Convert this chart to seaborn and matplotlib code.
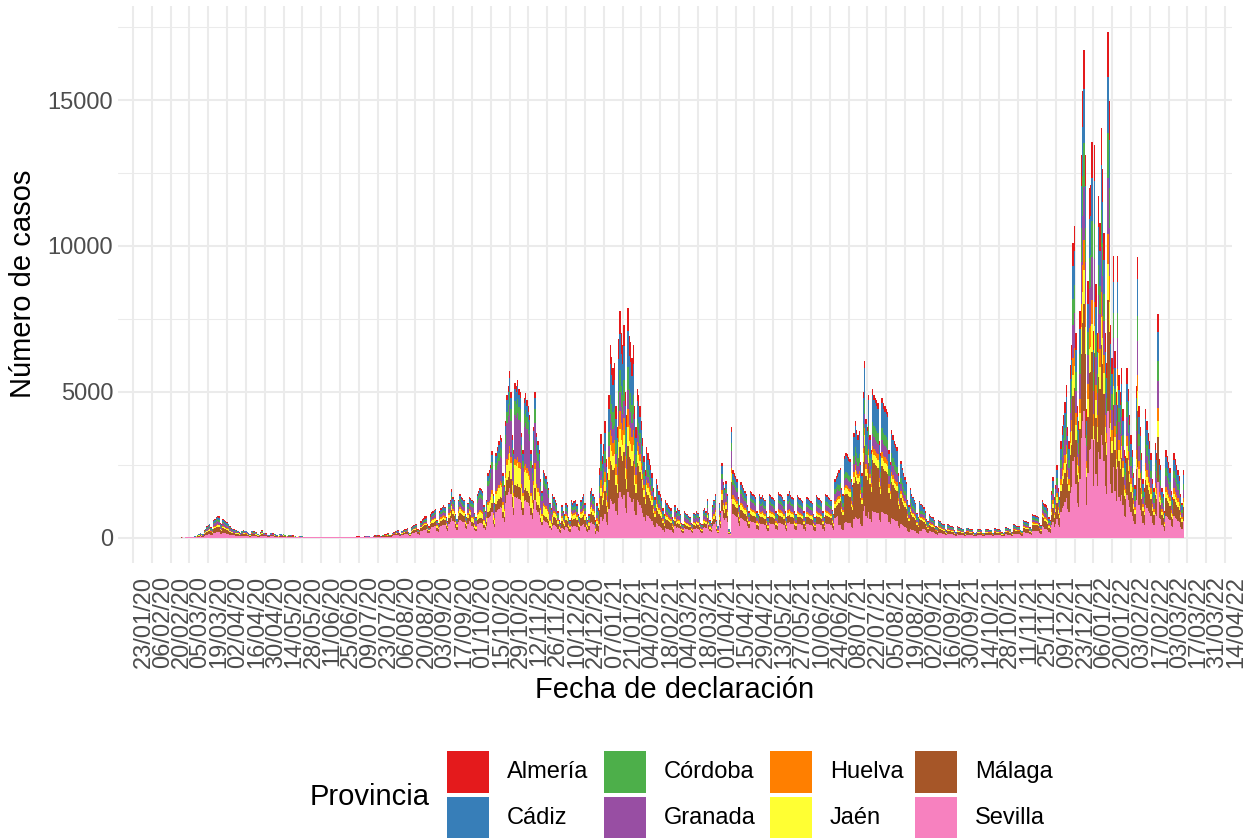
import numpy as np
import pandas as pd
import matplotlib
matplotlib.use("Agg")
import matplotlib.pyplot as plt
import matplotlib.dates as mdates
from matplotlib.patches import Rectangle
import seaborn as sns

# Provinces (ggplot order: first level on top of the stack) and Set1 colours
provincias = ["Almería", "Cádiz", "Córdoba", "Granada", "Huelva", "Jaén", "Málaga", "Sevilla"]
colores = ["#E41A1C", "#377EB8", "#4DAF4A", "#984EA3", "#FF7F00", "#FFFF33", "#A65628", "#F781BF"]

# Daily total cases, one row per week (Mon..Sun), first Monday 2020-02-24
inicio = "2020-02-24"
casos_semana = [
    [0, 0, 0, 1, 2, 3, 2], [5, 8, 12, 18, 25, 20, 15], [40, 60, 90, 120, 160, 130, 110],
    [250, 300, 380, 420, 480, 350, 300], [600, 650, 700, 750, 720, 500, 450],
    [650, 600, 550, 520, 480, 380, 320], [300, 280, 260, 250, 240, 180, 150],
    [220, 250, 240, 230, 200, 150, 120], [230, 220, 210, 200, 180, 120, 100],
    [180, 250, 170, 160, 140, 100, 80], [150, 160, 140, 130, 110, 80, 60],
    [120, 110, 100, 130, 90, 60, 50], [90, 80, 100, 70, 60, 40, 30],
    [60, 50, 40, 45, 30, 20, 15], [20, 15, 20, 15, 10, 8, 5], [15, 10, 12, 10, 8, 5, 4],
    [10, 12, 15, 10, 8, 6, 5], [15, 20, 18, 15, 12, 10, 8], [20, 25, 30, 25, 20, 15, 10],
    [30, 40, 35, 40, 30, 20, 15], [40, 50, 60, 55, 50, 30, 25], [60, 80, 90, 85, 80, 50, 40],
    [100, 120, 130, 140, 150, 90, 70], [160, 190, 210, 230, 250, 150, 120],
    [230, 260, 280, 300, 320, 200, 170], [350, 400, 430, 460, 480, 300, 260],
    [550, 620, 680, 720, 740, 450, 380], [800, 860, 900, 950, 980, 600, 500],
    [900, 1000, 1050, 1100, 1050, 700, 550], [1200, 1300, 1650, 1400, 1300, 800, 650],
    [1300, 1500, 1400, 1350, 1300, 800, 700], [1200, 1400, 1350, 1300, 1250, 850, 700],
    [1500, 1600, 1700, 1650, 1600, 1100, 900], [1300, 2200, 2300, 2500, 2950, 1500, 1200],
    [2900, 3100, 3300, 3500, 3400, 2200, 1800], [4000, 4900, 5200, 5700, 5000, 3500, 3000],
    [5300, 5200, 5400, 5100, 5000, 3600, 3000], [4800, 4950, 4700, 4500, 4200, 3000, 2500],
    [3800, 4990, 3600, 3300, 3000, 2000, 1600], [2300, 2200, 2100, 1900, 1700, 1200, 1000],
    [1500, 1400, 1300, 1200, 900, 600, 500], [1100, 900, 800, 1200, 1100, 700, 600],
    [1300, 1200, 1250, 1300, 1150, 800, 700], [1300, 1400, 1500, 1200, 700, 600, 800],
    [1600, 1700, 1500, 1400, 600, 1200, 1000], [2400, 3550, 2800, 3200, 4000, 2700, 2200],
    [4900, 6600, 6200, 5800, 6000, 4500, 3800], [6800, 7770, 7000, 6600, 7300, 5000, 4200],
    [7880, 6900, 6700, 6150, 6600, 4500, 3800], [5100, 4900, 4500, 4000, 3400, 2800, 2300],
    [3100, 2900, 2700, 2500, 2200, 1700, 1400], [2000, 1800, 1600, 1500, 1370, 1000, 800],
    [1300, 1200, 1100, 1050, 1000, 700, 600], [1100, 900, 1000, 950, 800, 500, 450],
    [900, 850, 800, 750, 700, 500, 450], [850, 800, 900, 850, 700, 500, 450],
    [950, 1000, 900, 1310, 850, 600, 500], [1100, 1300, 1500, 600, 400, 1200, 900],
    [2570, 1900, 1700, 1940, 1500, 300, 200], [3800, 2300, 2200, 2100, 2000, 1400, 1100],
    [1900, 1800, 1700, 1600, 1500, 1100, 900], [1600, 1550, 1500, 1450, 1400, 900, 800],
    [1500, 1400, 1450, 1350, 1300, 900, 700], [1500, 1450, 1400, 1350, 1300, 900, 800],
    [1550, 1500, 1450, 1400, 1300, 900, 700], [1500, 1600, 1450, 1400, 1350, 900, 800],
    [1450, 1400, 1350, 1300, 1250, 900, 700], [1400, 1350, 1300, 1250, 1200, 800, 700],
    [1450, 1400, 1350, 1300, 1250, 900, 700], [1500, 1450, 1400, 1350, 1300, 950, 800],
    [2000, 2100, 2200, 2300, 2400, 1700, 1500], [2800, 2900, 2850, 2750, 2700, 2000, 1800],
    [3600, 4000, 3700, 3500, 3660, 2600, 2200], [4970, 6060, 4050, 3800, 4900, 3500, 3000],
    [5080, 4900, 4800, 4700, 4600, 3300, 2900], [4800, 4600, 4500, 4400, 4300, 3000, 2600],
    [3700, 3500, 3300, 3200, 3100, 2200, 1900], [2630, 2400, 2200, 2060, 1900, 1300, 1100],
    [1700, 1500, 1400, 1300, 1200, 850, 700], [1260, 1150, 1100, 1030, 900, 650, 550],
    [800, 750, 700, 690, 600, 400, 350], [600, 550, 500, 470, 450, 300, 250],
    [450, 420, 400, 380, 350, 250, 200], [380, 360, 340, 320, 300, 200, 180],
    [330, 320, 300, 290, 280, 180, 150], [200, 300, 290, 280, 270, 170, 150],
    [300, 290, 280, 270, 260, 170, 150], [320, 300, 290, 280, 270, 180, 160],
    [200, 350, 330, 320, 300, 200, 180], [450, 420, 400, 390, 380, 260, 220],
    [600, 580, 560, 540, 520, 350, 300], [800, 780, 760, 750, 720, 500, 420],
    [1280, 1200, 1150, 1100, 1000, 700, 600], [1600, 2090, 1400, 1800, 2500, 1700, 1400],
    [3300, 3830, 4200, 4640, 5220, 3800, 3300], [5910, 6610, 10100, 10670, 7000, 4500, 4000],
    [7770, 13100, 15300, 16700, 13100, 4400, 8800], [12000, 12100, 13560, 7080, 13450, 8700, 7000],
    [11700, 10800, 14030, 12640, 10440, 7000, 6000], [17340, 14960, 7300, 6150, 9640, 6380, 5000],
    [9640, 5570, 4990, 5800, 4400, 3000, 2800], [5800, 5100, 4200, 3500, 3000, 2200, 1800],
    [5200, 9630, 4500, 3800, 2900, 2000, 1700], [4400, 4000, 3600, 3300, 2900, 2000, 1700],
    [3250, 2900, 7650, 2700, 2500, 1700, 1500], [900, 3010, 2800, 2600, 2400, 1600, 1400],
    [2900, 2700, 2500, 2320, 2100, 1500, 1200], [2320],
]

# Share (%) of each province per month, Feb 2020 .. Mar 2022, estimated from the colours
mes_inicial = (2020, 2)
reparto = {
    "Almería": [5, 6, 6, 6, 10, 20, 10, 5, 4, 4, 6, 10, 8, 5, 5, 5, 5, 4, 4, 6, 6, 6, 8, 9, 8, 8],
    "Cádiz":   [10, 10, 10, 10, 10, 10, 8, 8, 8, 8, 10, 16, 12, 10, 10, 12, 12, 18, 18, 12, 10, 10, 11, 11, 13, 13],
    "Córdoba": [8, 8, 8, 8, 8, 5, 6, 6, 8, 9, 8, 10, 8, 7, 7, 7, 8, 8, 8, 8, 8, 8, 9, 9, 9, 9],
    "Granada": [15, 15, 15, 15, 10, 8, 8, 12, 25, 28, 10, 8, 8, 15, 15, 14, 12, 8, 9, 10, 10, 10, 11, 11, 12, 12],
    "Huelva":  [3, 3, 3, 3, 5, 5, 4, 4, 4, 4, 5, 8, 6, 5, 5, 5, 5, 4, 4, 5, 5, 5, 6, 6, 6, 6],
    "Jaén":    [8, 8, 8, 8, 5, 5, 6, 8, 11, 13, 10, 8, 8, 8, 8, 8, 7, 6, 6, 6, 6, 6, 7, 7, 7, 7],
    "Málaga":  [26, 25, 25, 25, 30, 30, 20, 17, 10, 8, 20, 20, 25, 15, 15, 16, 18, 34, 33, 25, 25, 25, 22, 22, 20, 20],
    "Sevilla": [25, 25, 25, 25, 22, 17, 38, 40, 30, 26, 31, 20, 25, 35, 35, 33, 33, 18, 18, 28, 30, 30, 26, 25, 25, 25],
}

# Axis breaks: every 14 days
primer_corte = "2020-01-23"
ultimo_corte = "2022-04-14"
y_cortes = [0, 5000, 10000, 15000]
y_menores = [2500, 7500, 12500, 17500]

# Build long dataframe
total = np.array([v for semana in casos_semana for v in semana], dtype=float)
fechas = pd.date_range(inicio, periods=len(total), freq="D")
mes_idx = (fechas.year - mes_inicial[0]) * 12 + fechas.month - mes_inicial[1]
partes = []
for p in provincias:
    cuota = np.array(reparto[p])[mes_idx] / 100
    partes.append(pd.DataFrame({"fecha": mdates.date2num(fechas), "Provincia": p,
                                "casos": np.round(total * cuota)}))
df = pd.concat(partes, ignore_index=True)

# Figure
W, H = 1248, 838
sns.set_theme(style="whitegrid")
plt.rcParams["font.family"] = ["Liberation Sans", "DejaVu Sans"]
fig = plt.figure(figsize=(W / 100, H / 100), dpi=100)
fig.patch.set_facecolor("white")

left, right, top, bottom = 118, 1232, 6, 563
ax = fig.add_axes([left / W, 1 - bottom / H, (right - left) / W, (bottom - top) / H])
ax.set_facecolor("white")

sns.histplot(data=df, x="fecha", weights="casos", hue="Provincia", hue_order=provincias,
             palette=colores, multiple="stack", discrete=True, element="bars",
             linewidth=0, alpha=1, legend=False, ax=ax)

# x scale: first break at px 133, 14 days = 18.83 px
px_dia = 18.83 / 14
dia0 = mdates.date2num(pd.Timestamp(primer_corte))
ax.set_xlim(dia0 - (133 - left) / px_dia, dia0 + (right - 133) / px_dia)
ax.set_ylim(-874, 18223)

cortes = pd.date_range(primer_corte, ultimo_corte, freq="14D")
ax.set_xticks(mdates.date2num(cortes))
ax.set_xticklabels(cortes.strftime("%d/%m/%y"), rotation=90, ha="left", va="top",
                   fontsize=17, color="#4D4D4D")
ax.set_yticks(y_cortes)
ax.set_yticklabels([str(v) for v in y_cortes], fontsize=17, color="#4D4D4D")
ax.set_yticks(y_menores, minor=True)
ax.tick_params(axis="x", which="both", length=0, pad=9)
ax.tick_params(axis="y", which="both", length=0, pad=3.5)

ax.grid(False)
ax.grid(which="major", axis="both", color="#EBEBEB", linewidth=1.45)
ax.grid(which="minor", axis="y", color="#EBEBEB", linewidth=0.75)
ax.set_axisbelow(True)
for s in ax.spines.values():
    s.set_visible(False)
ax.set_xlabel("")
ax.set_ylabel("")

# Axis titles
fig.text(675 / W, 1 - 690 / H, "Fecha de declaración", ha="center", va="center", fontsize=21, color="black")
fig.text(23 / W, 1 - 284 / H, "Número de casos", ha="center", va="center", rotation=90,
         fontsize=21, color="black")

# Legend (bottom, 4 columns x 2 rows)
fig.text(310 / W, 1 - 797 / H, "Provincia", ha="left", va="center", fontsize=21, color="black")
col_x = [447, 604, 770, 915]
fila_y = [751, 797]
key_w, key_h = 42, 42
for i, (p, c) in enumerate(zip(provincias, colores)):
    cx = col_x[i // 2]
    fy = fila_y[i % 2]
    fig.add_artist(Rectangle((cx / W, 1 - (fy + key_h) / H), key_w / W, key_h / H,
                             transform=fig.transFigure, facecolor=c, edgecolor="none"))
    fig.text((cx + key_w + 18) / W, 1 - (fy + key_h / 2) / H, p, ha="left", va="center",
             fontsize=17, color="black")

fig.savefig("out.png", dpi=100, facecolor="white")
